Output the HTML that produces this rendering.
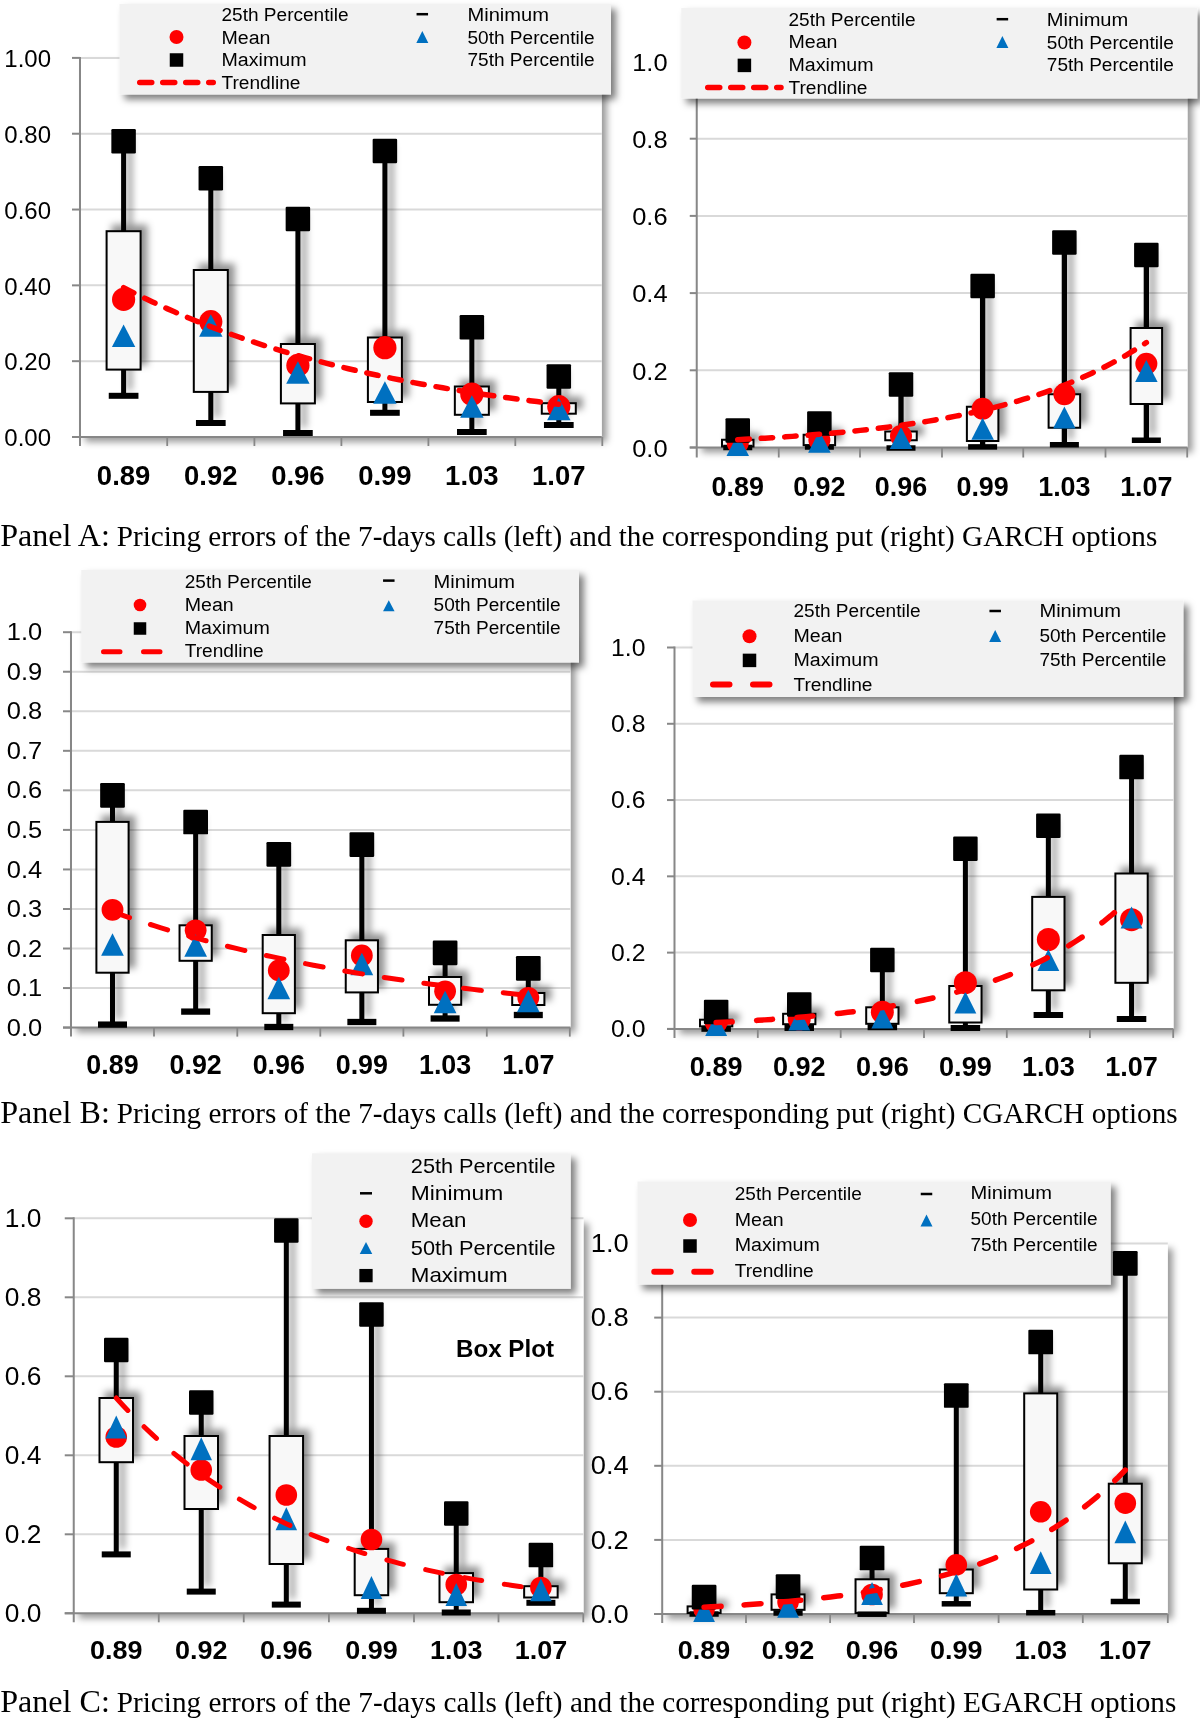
<!DOCTYPE html>
<html><head><meta charset="utf-8"><style>
html,body{margin:0;padding:0;background:#fff;}
svg{display:block;will-change:transform;}
</style></head><body>
<svg width="1200" height="1722" viewBox="0 0 1200 1722">
<defs>
<filter id="shp" x="-5%" y="-5%" width="115%" height="115%"><feDropShadow dx="5" dy="5" stdDeviation="3.5" flood-color="#000" flood-opacity="0.4"/></filter>
<filter id="she" x="-30%" y="-30%" width="160%" height="160%"><feDropShadow dx="6" dy="-5.5" stdDeviation="3.5" flood-color="#000" flood-opacity="0.42"/></filter>
<filter id="shl" x="-5%" y="-10%" width="115%" height="140%"><feDropShadow dx="5" dy="5" stdDeviation="3.8" flood-color="#000" flood-opacity="0.5"/></filter>
</defs>
<rect width="1200" height="1722" fill="#fff"/>
<rect x="80" y="57.9" width="521.8" height="379.1" fill="#fff" filter="url(#shp)"/>
<line x1="80" y1="361.18" x2="601.8" y2="361.18" stroke="#d9d9d9" stroke-width="2"/>
<line x1="80" y1="285.36" x2="601.8" y2="285.36" stroke="#d9d9d9" stroke-width="2"/>
<line x1="80" y1="209.54" x2="601.8" y2="209.54" stroke="#d9d9d9" stroke-width="2"/>
<line x1="80" y1="133.72" x2="601.8" y2="133.72" stroke="#d9d9d9" stroke-width="2"/>
<line x1="80" y1="57.90" x2="601.8" y2="57.90" stroke="#d9d9d9" stroke-width="2"/>
<line x1="80" y1="56.9" x2="80" y2="446" stroke="#878787" stroke-width="2"/>
<line x1="72" y1="437" x2="601.8" y2="437" stroke="#878787" stroke-width="2"/>
<line x1="72" y1="437.00" x2="80" y2="437.00" stroke="#878787" stroke-width="2"/>
<line x1="72" y1="361.18" x2="80" y2="361.18" stroke="#878787" stroke-width="2"/>
<line x1="72" y1="285.36" x2="80" y2="285.36" stroke="#878787" stroke-width="2"/>
<line x1="72" y1="209.54" x2="80" y2="209.54" stroke="#878787" stroke-width="2"/>
<line x1="72" y1="133.72" x2="80" y2="133.72" stroke="#878787" stroke-width="2"/>
<line x1="72" y1="57.90" x2="80" y2="57.90" stroke="#878787" stroke-width="2"/>
<line x1="167.2" y1="437" x2="167.2" y2="446" stroke="#878787" stroke-width="1.8"/>
<line x1="254.4" y1="437" x2="254.4" y2="446" stroke="#878787" stroke-width="1.8"/>
<line x1="341.4" y1="437" x2="341.4" y2="446" stroke="#878787" stroke-width="1.8"/>
<line x1="428.4" y1="437" x2="428.4" y2="446" stroke="#878787" stroke-width="1.8"/>
<line x1="515.3" y1="437" x2="515.3" y2="446" stroke="#878787" stroke-width="1.8"/>
<line x1="602.3" y1="437" x2="602.3" y2="446" stroke="#878787" stroke-width="1.8"/>
<text x="51.00" y="446.20" font-size="24" font-family='"Liberation Sans", sans-serif' text-anchor="end" textLength="46.7" lengthAdjust="spacingAndGlyphs" fill="#000">0.00</text>
<text x="51.00" y="370.38" font-size="24" font-family='"Liberation Sans", sans-serif' text-anchor="end" textLength="46.7" lengthAdjust="spacingAndGlyphs" fill="#000">0.20</text>
<text x="51.00" y="294.56" font-size="24" font-family='"Liberation Sans", sans-serif' text-anchor="end" textLength="46.7" lengthAdjust="spacingAndGlyphs" fill="#000">0.40</text>
<text x="51.00" y="218.74" font-size="24" font-family='"Liberation Sans", sans-serif' text-anchor="end" textLength="46.7" lengthAdjust="spacingAndGlyphs" fill="#000">0.60</text>
<text x="51.00" y="142.92" font-size="24" font-family='"Liberation Sans", sans-serif' text-anchor="end" textLength="46.7" lengthAdjust="spacingAndGlyphs" fill="#000">0.80</text>
<text x="51.00" y="67.10" font-size="24" font-family='"Liberation Sans", sans-serif' text-anchor="end" textLength="46.7" lengthAdjust="spacingAndGlyphs" fill="#000">1.00</text>
<text x="123.60" y="484.70" font-size="27.2" font-family='"Liberation Sans", sans-serif' text-anchor="middle" font-weight="bold" textLength="53.5" lengthAdjust="spacingAndGlyphs" fill="#000">0.89</text>
<text x="210.80" y="484.70" font-size="27.2" font-family='"Liberation Sans", sans-serif' text-anchor="middle" font-weight="bold" textLength="53.5" lengthAdjust="spacingAndGlyphs" fill="#000">0.92</text>
<text x="297.90" y="484.70" font-size="27.2" font-family='"Liberation Sans", sans-serif' text-anchor="middle" font-weight="bold" textLength="53.5" lengthAdjust="spacingAndGlyphs" fill="#000">0.96</text>
<text x="384.90" y="484.70" font-size="27.2" font-family='"Liberation Sans", sans-serif' text-anchor="middle" font-weight="bold" textLength="53.5" lengthAdjust="spacingAndGlyphs" fill="#000">0.99</text>
<text x="471.85" y="484.70" font-size="27.2" font-family='"Liberation Sans", sans-serif' text-anchor="middle" font-weight="bold" textLength="53.5" lengthAdjust="spacingAndGlyphs" fill="#000">1.03</text>
<text x="558.80" y="484.70" font-size="27.2" font-family='"Liberation Sans", sans-serif' text-anchor="middle" font-weight="bold" textLength="53.5" lengthAdjust="spacingAndGlyphs" fill="#000">1.07</text>
<g filter="url(#she)">
<line x1="123.60" y1="141.30" x2="123.60" y2="395.80" stroke="#000" stroke-width="5"/>
<line x1="210.80" y1="178.20" x2="210.80" y2="423.00" stroke="#000" stroke-width="5"/>
<line x1="297.90" y1="219.00" x2="297.90" y2="433.00" stroke="#000" stroke-width="5"/>
<line x1="384.90" y1="151.00" x2="384.90" y2="412.80" stroke="#000" stroke-width="5"/>
<line x1="471.85" y1="327.30" x2="471.85" y2="432.00" stroke="#000" stroke-width="5"/>
<line x1="558.80" y1="376.40" x2="558.80" y2="425.00" stroke="#000" stroke-width="5"/>
<rect x="106.60" y="231.20" width="34.00" height="138.40" fill="#f8f8f8" stroke="#000" stroke-width="2"/>
<rect x="193.80" y="270.00" width="34.00" height="121.90" fill="#f8f8f8" stroke="#000" stroke-width="2"/>
<rect x="280.90" y="344.00" width="34.00" height="59.40" fill="#f8f8f8" stroke="#000" stroke-width="2"/>
<rect x="367.90" y="337.50" width="34.00" height="64.50" fill="#f8f8f8" stroke="#000" stroke-width="2"/>
<rect x="454.85" y="386.50" width="34.00" height="28.30" fill="#f8f8f8" stroke="#000" stroke-width="2"/>
<rect x="541.80" y="403.20" width="34.00" height="10.50" fill="#f8f8f8" stroke="#000" stroke-width="2"/>
</g>
<rect x="108.75" y="392.80" width="29.7" height="6" fill="#000"/>
<circle cx="123.60" cy="299.40" r="11.6" fill="#ff0000"/>
<path d="M123.60,324.50 L135.30,347.00 L111.90,347.00 Z" fill="#0070c0"/>
<rect x="111.35" y="129.05" width="24.5" height="24.5" rx="1.2" fill="#000"/>
<rect x="195.95" y="420.00" width="29.7" height="6" fill="#000"/>
<circle cx="210.80" cy="321.70" r="11.6" fill="#ff0000"/>
<path d="M210.80,314.35 L222.50,336.85 L199.10,336.85 Z" fill="#0070c0"/>
<rect x="198.55" y="165.95" width="24.5" height="24.5" rx="1.2" fill="#000"/>
<rect x="283.05" y="430.00" width="29.7" height="6" fill="#000"/>
<circle cx="297.90" cy="365.40" r="11.6" fill="#ff0000"/>
<path d="M297.90,361.35 L309.60,383.85 L286.20,383.85 Z" fill="#0070c0"/>
<rect x="285.65" y="206.75" width="24.5" height="24.5" rx="1.2" fill="#000"/>
<rect x="370.05" y="409.80" width="29.7" height="6" fill="#000"/>
<circle cx="384.90" cy="347.70" r="11.6" fill="#ff0000"/>
<path d="M384.90,381.15 L396.60,403.65 L373.20,403.65 Z" fill="#0070c0"/>
<rect x="372.65" y="138.75" width="24.5" height="24.5" rx="1.2" fill="#000"/>
<rect x="457.00" y="429.00" width="29.7" height="6" fill="#000"/>
<circle cx="471.85" cy="394.20" r="11.6" fill="#ff0000"/>
<path d="M471.85,395.25 L483.55,417.75 L460.15,417.75 Z" fill="#0070c0"/>
<rect x="459.60" y="315.05" width="24.5" height="24.5" rx="1.2" fill="#000"/>
<rect x="543.95" y="422.00" width="29.7" height="6" fill="#000"/>
<circle cx="558.80" cy="406.70" r="11.6" fill="#ff0000"/>
<path d="M558.80,397.75 L570.50,420.25 L547.10,420.25 Z" fill="#0070c0"/>
<rect x="546.55" y="364.15" width="24.5" height="24.5" rx="1.2" fill="#000"/>
<polyline points="123.60,287.63 130.85,291.36 138.11,294.99 145.36,298.53 152.61,301.98 159.87,305.35 167.12,308.63 174.37,311.83 181.63,314.95 188.88,318.00 196.13,320.96 203.39,323.86 210.64,326.68 217.89,329.43 225.15,332.11 232.40,334.73 239.65,337.28 246.91,339.76 254.16,342.19 261.41,344.55 268.67,346.86 275.92,349.10 283.17,351.30 290.43,353.43 297.68,355.52 304.93,357.55 312.19,359.53 319.44,361.46 326.69,363.34 333.95,365.18 341.20,366.97 348.45,368.72 355.71,370.42 362.96,372.08 370.21,373.70 377.47,375.28 384.72,376.82 391.97,378.32 399.23,379.78 406.48,381.21 413.73,382.60 420.99,383.95 428.24,385.28 435.49,386.57 442.75,387.82 450.00,389.05 457.25,390.25 464.51,391.41 471.76,392.55 479.01,393.66 486.27,394.74 493.52,395.79 500.77,396.82 508.03,397.82 515.28,398.80 522.53,399.75 529.79,400.68 537.04,401.58 544.29,402.47 551.55,403.33 558.80,404.17" fill="none" stroke="#ff0000" stroke-width="5.5" stroke-linecap="round" stroke-dasharray="11.5 12"/>
<rect x="119.5" y="4" width="491.5" height="90.5" fill="#f2f2f2" filter="url(#shl)"/>
<text x="221.50" y="21.25" font-size="18" font-family='"Liberation Sans", sans-serif' textLength="127.0" lengthAdjust="spacingAndGlyphs" fill="#000">25th Percentile</text>
<circle cx="176.5" cy="37" r="7" fill="#ff0000"/>
<text x="221.50" y="43.75" font-size="18" font-family='"Liberation Sans", sans-serif' textLength="49.0" lengthAdjust="spacingAndGlyphs" fill="#000">Mean</text>
<rect x="169.75" y="53.25" width="13.5" height="13.5" fill="#000"/>
<text x="221.50" y="66.25" font-size="18" font-family='"Liberation Sans", sans-serif' textLength="85.0" lengthAdjust="spacingAndGlyphs" fill="#000">Maximum</text>
<line x1="139.75" y1="82.5" x2="213.25" y2="82.5" stroke="#ff0000" stroke-width="5.5" stroke-linecap="round" stroke-dasharray="12 11"/>
<text x="221.50" y="88.75" font-size="18" font-family='"Liberation Sans", sans-serif' textLength="79.0" lengthAdjust="spacingAndGlyphs" fill="#000">Trendline</text>
<rect x="416.55" y="12.95" width="11.5" height="2.5" fill="#000"/>
<text x="467.50" y="20.60" font-size="18" font-family='"Liberation Sans", sans-serif' textLength="81.5" lengthAdjust="spacingAndGlyphs" fill="#000">Minimum</text>
<path d="M422.30,30.90 L428.30,42.90 L416.30,42.90 Z" fill="#0070c0"/>
<text x="467.50" y="43.60" font-size="18" font-family='"Liberation Sans", sans-serif' textLength="127.0" lengthAdjust="spacingAndGlyphs" fill="#000">50th Percentile</text>
<text x="467.50" y="66.00" font-size="18" font-family='"Liberation Sans", sans-serif' textLength="127.0" lengthAdjust="spacingAndGlyphs" fill="#000">75th Percentile</text>
<rect x="696.75" y="61.5" width="490.75" height="386.0" fill="#fff" filter="url(#shp)"/>
<line x1="696.75" y1="370.30" x2="1187.5" y2="370.30" stroke="#d9d9d9" stroke-width="2"/>
<line x1="696.75" y1="293.10" x2="1187.5" y2="293.10" stroke="#d9d9d9" stroke-width="2"/>
<line x1="696.75" y1="215.90" x2="1187.5" y2="215.90" stroke="#d9d9d9" stroke-width="2"/>
<line x1="696.75" y1="138.70" x2="1187.5" y2="138.70" stroke="#d9d9d9" stroke-width="2"/>
<line x1="696.75" y1="61.50" x2="1187.5" y2="61.50" stroke="#d9d9d9" stroke-width="2"/>
<line x1="696.75" y1="60.5" x2="696.75" y2="457.5" stroke="#878787" stroke-width="2"/>
<line x1="689.75" y1="447.5" x2="1187.5" y2="447.5" stroke="#878787" stroke-width="2"/>
<line x1="689.75" y1="447.50" x2="696.75" y2="447.50" stroke="#878787" stroke-width="2"/>
<line x1="689.75" y1="370.30" x2="696.75" y2="370.30" stroke="#878787" stroke-width="2"/>
<line x1="689.75" y1="293.10" x2="696.75" y2="293.10" stroke="#878787" stroke-width="2"/>
<line x1="689.75" y1="215.90" x2="696.75" y2="215.90" stroke="#878787" stroke-width="2"/>
<line x1="689.75" y1="138.70" x2="696.75" y2="138.70" stroke="#878787" stroke-width="2"/>
<line x1="689.75" y1="61.50" x2="696.75" y2="61.50" stroke="#878787" stroke-width="2"/>
<line x1="778.75" y1="447.5" x2="778.75" y2="457.5" stroke="#878787" stroke-width="1.8"/>
<line x1="860" y1="447.5" x2="860" y2="457.5" stroke="#878787" stroke-width="1.8"/>
<line x1="942" y1="447.5" x2="942" y2="457.5" stroke="#878787" stroke-width="1.8"/>
<line x1="1023.25" y1="447.5" x2="1023.25" y2="457.5" stroke="#878787" stroke-width="1.8"/>
<line x1="1105.5" y1="447.5" x2="1105.5" y2="457.5" stroke="#878787" stroke-width="1.8"/>
<line x1="1187.2" y1="447.5" x2="1187.2" y2="457.5" stroke="#878787" stroke-width="1.8"/>
<text x="667.60" y="456.70" font-size="24" font-family='"Liberation Sans", sans-serif' text-anchor="end" textLength="35.4" lengthAdjust="spacingAndGlyphs" fill="#000">0.0</text>
<text x="667.60" y="379.50" font-size="24" font-family='"Liberation Sans", sans-serif' text-anchor="end" textLength="35.4" lengthAdjust="spacingAndGlyphs" fill="#000">0.2</text>
<text x="667.60" y="302.30" font-size="24" font-family='"Liberation Sans", sans-serif' text-anchor="end" textLength="35.4" lengthAdjust="spacingAndGlyphs" fill="#000">0.4</text>
<text x="667.60" y="225.10" font-size="24" font-family='"Liberation Sans", sans-serif' text-anchor="end" textLength="35.4" lengthAdjust="spacingAndGlyphs" fill="#000">0.6</text>
<text x="667.60" y="147.90" font-size="24" font-family='"Liberation Sans", sans-serif' text-anchor="end" textLength="35.4" lengthAdjust="spacingAndGlyphs" fill="#000">0.8</text>
<text x="667.60" y="70.70" font-size="24" font-family='"Liberation Sans", sans-serif' text-anchor="end" textLength="35.4" lengthAdjust="spacingAndGlyphs" fill="#000">1.0</text>
<text x="737.75" y="495.50" font-size="27.2" font-family='"Liberation Sans", sans-serif' text-anchor="middle" font-weight="bold" textLength="52.4" lengthAdjust="spacingAndGlyphs" fill="#000">0.89</text>
<text x="819.38" y="495.50" font-size="27.2" font-family='"Liberation Sans", sans-serif' text-anchor="middle" font-weight="bold" textLength="52.4" lengthAdjust="spacingAndGlyphs" fill="#000">0.92</text>
<text x="901.00" y="495.50" font-size="27.2" font-family='"Liberation Sans", sans-serif' text-anchor="middle" font-weight="bold" textLength="52.4" lengthAdjust="spacingAndGlyphs" fill="#000">0.96</text>
<text x="982.62" y="495.50" font-size="27.2" font-family='"Liberation Sans", sans-serif' text-anchor="middle" font-weight="bold" textLength="52.4" lengthAdjust="spacingAndGlyphs" fill="#000">0.99</text>
<text x="1064.38" y="495.50" font-size="27.2" font-family='"Liberation Sans", sans-serif' text-anchor="middle" font-weight="bold" textLength="52.4" lengthAdjust="spacingAndGlyphs" fill="#000">1.03</text>
<text x="1146.35" y="495.50" font-size="27.2" font-family='"Liberation Sans", sans-serif' text-anchor="middle" font-weight="bold" textLength="52.4" lengthAdjust="spacingAndGlyphs" fill="#000">1.07</text>
<g filter="url(#she)">
<line x1="737.75" y1="430.40" x2="737.75" y2="447.50" stroke="#000" stroke-width="5.3"/>
<line x1="819.38" y1="423.50" x2="819.38" y2="447.00" stroke="#000" stroke-width="5.3"/>
<line x1="901.00" y1="384.40" x2="901.00" y2="448.00" stroke="#000" stroke-width="5.3"/>
<line x1="982.62" y1="286.00" x2="982.62" y2="446.90" stroke="#000" stroke-width="5.3"/>
<line x1="1064.38" y1="242.50" x2="1064.38" y2="444.75" stroke="#000" stroke-width="5.3"/>
<line x1="1146.35" y1="255.00" x2="1146.35" y2="440.25" stroke="#000" stroke-width="5.3"/>
<rect x="722.00" y="439.75" width="31.50" height="6.75" fill="#f8f8f8" stroke="#000" stroke-width="2"/>
<rect x="803.62" y="434.75" width="31.50" height="10.50" fill="#f8f8f8" stroke="#000" stroke-width="2"/>
<rect x="885.25" y="431.50" width="31.50" height="8.75" fill="#f8f8f8" stroke="#000" stroke-width="2"/>
<rect x="966.88" y="406.75" width="31.50" height="34.25" fill="#f8f8f8" stroke="#000" stroke-width="2"/>
<rect x="1048.62" y="394.25" width="31.50" height="33.50" fill="#f8f8f8" stroke="#000" stroke-width="2"/>
<rect x="1130.60" y="328.00" width="31.50" height="76.00" fill="#f8f8f8" stroke="#000" stroke-width="2"/>
</g>
<rect x="723.25" y="444.75" width="29" height="5.5" fill="#000"/>
<circle cx="737.75" cy="443.00" r="11" fill="#ff0000"/>
<path d="M737.75,434.00 L749.00,456.00 L726.50,456.00 Z" fill="#0070c0"/>
<rect x="725.50" y="418.15" width="24.5" height="24.5" rx="1.2" fill="#000"/>
<rect x="804.88" y="444.25" width="29" height="5.5" fill="#000"/>
<circle cx="819.38" cy="440.00" r="11" fill="#ff0000"/>
<path d="M819.38,430.75 L830.62,452.75 L808.12,452.75 Z" fill="#0070c0"/>
<rect x="807.12" y="411.25" width="24.5" height="24.5" rx="1.2" fill="#000"/>
<rect x="886.50" y="445.25" width="29" height="5.5" fill="#000"/>
<circle cx="901.00" cy="436.00" r="11" fill="#ff0000"/>
<path d="M901.00,427.00 L912.25,449.00 L889.75,449.00 Z" fill="#0070c0"/>
<rect x="888.75" y="372.15" width="24.5" height="24.5" rx="1.2" fill="#000"/>
<rect x="968.12" y="444.15" width="29" height="5.5" fill="#000"/>
<circle cx="982.62" cy="408.75" r="11" fill="#ff0000"/>
<path d="M982.62,417.75 L993.88,439.75 L971.38,439.75 Z" fill="#0070c0"/>
<rect x="970.38" y="273.75" width="24.5" height="24.5" rx="1.2" fill="#000"/>
<rect x="1049.88" y="442.00" width="29" height="5.5" fill="#000"/>
<circle cx="1064.38" cy="394.25" r="11" fill="#ff0000"/>
<path d="M1064.38,406.50 L1075.62,428.50 L1053.12,428.50 Z" fill="#0070c0"/>
<rect x="1052.12" y="230.25" width="24.5" height="24.5" rx="1.2" fill="#000"/>
<rect x="1131.85" y="437.50" width="29" height="5.5" fill="#000"/>
<circle cx="1146.35" cy="363.75" r="11" fill="#ff0000"/>
<path d="M1146.35,360.00 L1157.60,382.00 L1135.10,382.00 Z" fill="#0070c0"/>
<rect x="1134.10" y="242.75" width="24.5" height="24.5" rx="1.2" fill="#000"/>
<polyline points="737.75,439.63 744.56,439.28 751.37,438.92 758.18,438.54 764.99,438.14 771.80,437.73 778.61,437.30 785.42,436.85 792.23,436.38 799.04,435.89 805.85,435.37 812.66,434.84 819.47,434.28 826.28,433.70 833.09,433.09 839.90,432.45 846.71,431.79 853.52,431.10 860.33,430.37 867.14,429.62 873.95,428.83 880.76,428.01 887.57,427.15 894.38,426.25 901.19,425.31 908.00,424.33 914.81,423.31 921.62,422.24 928.43,421.13 935.24,419.97 942.05,418.75 948.86,417.48 955.67,416.16 962.48,414.78 969.29,413.33 976.10,411.82 982.91,410.25 989.72,408.61 996.53,406.89 1003.34,405.10 1010.15,403.23 1016.96,401.28 1023.77,399.24 1030.58,397.11 1037.39,394.89 1044.20,392.57 1051.01,390.14 1057.82,387.61 1064.63,384.97 1071.44,382.21 1078.25,379.33 1085.06,376.33 1091.87,373.19 1098.68,369.91 1105.49,366.49 1112.30,362.91 1119.11,359.18 1125.92,355.29 1132.73,351.22 1139.54,346.97 1146.35,342.54" fill="none" stroke="#ff0000" stroke-width="5.5" stroke-linecap="round" stroke-dasharray="11.5 12"/>
<rect x="681.25" y="8" width="515.95" height="90.5" fill="#f2f2f2" filter="url(#shl)"/>
<text x="788.50" y="25.75" font-size="18" font-family='"Liberation Sans", sans-serif' textLength="127.0" lengthAdjust="spacingAndGlyphs" fill="#000">25th Percentile</text>
<circle cx="744.4" cy="42.5" r="7" fill="#ff0000"/>
<text x="788.50" y="48.00" font-size="18" font-family='"Liberation Sans", sans-serif' textLength="49.0" lengthAdjust="spacingAndGlyphs" fill="#000">Mean</text>
<rect x="737.65" y="58.650000000000006" width="13.5" height="13.5" fill="#000"/>
<text x="788.50" y="70.75" font-size="18" font-family='"Liberation Sans", sans-serif' textLength="85.0" lengthAdjust="spacingAndGlyphs" fill="#000">Maximum</text>
<line x1="707.75" y1="87.5" x2="781.0" y2="87.5" stroke="#ff0000" stroke-width="5.5" stroke-linecap="round" stroke-dasharray="12 11"/>
<text x="788.50" y="93.75" font-size="18" font-family='"Liberation Sans", sans-serif' textLength="79.0" lengthAdjust="spacingAndGlyphs" fill="#000">Trendline</text>
<rect x="996.65" y="17.95" width="11.5" height="2.5" fill="#000"/>
<text x="1046.80" y="25.80" font-size="18" font-family='"Liberation Sans", sans-serif' textLength="81.5" lengthAdjust="spacingAndGlyphs" fill="#000">Minimum</text>
<path d="M1002.40,35.90 L1008.40,47.90 L996.40,47.90 Z" fill="#0070c0"/>
<text x="1046.80" y="48.70" font-size="18" font-family='"Liberation Sans", sans-serif' textLength="127.0" lengthAdjust="spacingAndGlyphs" fill="#000">50th Percentile</text>
<text x="1046.80" y="71.30" font-size="18" font-family='"Liberation Sans", sans-serif' textLength="127.0" lengthAdjust="spacingAndGlyphs" fill="#000">75th Percentile</text>
<rect x="71" y="632.2" width="499.5" height="395.39999999999986" fill="#fff" filter="url(#shp)"/>
<line x1="71" y1="988.06" x2="570.5" y2="988.06" stroke="#d9d9d9" stroke-width="2"/>
<line x1="71" y1="948.52" x2="570.5" y2="948.52" stroke="#d9d9d9" stroke-width="2"/>
<line x1="71" y1="908.98" x2="570.5" y2="908.98" stroke="#d9d9d9" stroke-width="2"/>
<line x1="71" y1="869.44" x2="570.5" y2="869.44" stroke="#d9d9d9" stroke-width="2"/>
<line x1="71" y1="829.90" x2="570.5" y2="829.90" stroke="#d9d9d9" stroke-width="2"/>
<line x1="71" y1="790.36" x2="570.5" y2="790.36" stroke="#d9d9d9" stroke-width="2"/>
<line x1="71" y1="750.82" x2="570.5" y2="750.82" stroke="#d9d9d9" stroke-width="2"/>
<line x1="71" y1="711.28" x2="570.5" y2="711.28" stroke="#d9d9d9" stroke-width="2"/>
<line x1="71" y1="671.74" x2="570.5" y2="671.74" stroke="#d9d9d9" stroke-width="2"/>
<line x1="71" y1="632.20" x2="570.5" y2="632.20" stroke="#d9d9d9" stroke-width="2"/>
<line x1="71" y1="631.2" x2="71" y2="1036.6" stroke="#878787" stroke-width="2"/>
<line x1="63" y1="1027.6" x2="570.5" y2="1027.6" stroke="#878787" stroke-width="2"/>
<line x1="63" y1="1027.60" x2="71" y2="1027.60" stroke="#878787" stroke-width="2"/>
<line x1="63" y1="988.06" x2="71" y2="988.06" stroke="#878787" stroke-width="2"/>
<line x1="63" y1="948.52" x2="71" y2="948.52" stroke="#878787" stroke-width="2"/>
<line x1="63" y1="908.98" x2="71" y2="908.98" stroke="#878787" stroke-width="2"/>
<line x1="63" y1="869.44" x2="71" y2="869.44" stroke="#878787" stroke-width="2"/>
<line x1="63" y1="829.90" x2="71" y2="829.90" stroke="#878787" stroke-width="2"/>
<line x1="63" y1="790.36" x2="71" y2="790.36" stroke="#878787" stroke-width="2"/>
<line x1="63" y1="750.82" x2="71" y2="750.82" stroke="#878787" stroke-width="2"/>
<line x1="63" y1="711.28" x2="71" y2="711.28" stroke="#878787" stroke-width="2"/>
<line x1="63" y1="671.74" x2="71" y2="671.74" stroke="#878787" stroke-width="2"/>
<line x1="63" y1="632.20" x2="71" y2="632.20" stroke="#878787" stroke-width="2"/>
<line x1="154" y1="1027.6" x2="154" y2="1036.6" stroke="#878787" stroke-width="1.8"/>
<line x1="237.3" y1="1027.6" x2="237.3" y2="1036.6" stroke="#878787" stroke-width="1.8"/>
<line x1="320.3" y1="1027.6" x2="320.3" y2="1036.6" stroke="#878787" stroke-width="1.8"/>
<line x1="403.4" y1="1027.6" x2="403.4" y2="1036.6" stroke="#878787" stroke-width="1.8"/>
<line x1="486.8" y1="1027.6" x2="486.8" y2="1036.6" stroke="#878787" stroke-width="1.8"/>
<line x1="569.8" y1="1027.6" x2="569.8" y2="1036.6" stroke="#878787" stroke-width="1.8"/>
<text x="42.20" y="1035.70" font-size="24" font-family='"Liberation Sans", sans-serif' text-anchor="end" textLength="35.4" lengthAdjust="spacingAndGlyphs" fill="#000">0.0</text>
<text x="42.20" y="996.16" font-size="24" font-family='"Liberation Sans", sans-serif' text-anchor="end" textLength="35.4" lengthAdjust="spacingAndGlyphs" fill="#000">0.1</text>
<text x="42.20" y="956.62" font-size="24" font-family='"Liberation Sans", sans-serif' text-anchor="end" textLength="35.4" lengthAdjust="spacingAndGlyphs" fill="#000">0.2</text>
<text x="42.20" y="917.08" font-size="24" font-family='"Liberation Sans", sans-serif' text-anchor="end" textLength="35.4" lengthAdjust="spacingAndGlyphs" fill="#000">0.3</text>
<text x="42.20" y="877.54" font-size="24" font-family='"Liberation Sans", sans-serif' text-anchor="end" textLength="35.4" lengthAdjust="spacingAndGlyphs" fill="#000">0.4</text>
<text x="42.20" y="838.00" font-size="24" font-family='"Liberation Sans", sans-serif' text-anchor="end" textLength="35.4" lengthAdjust="spacingAndGlyphs" fill="#000">0.5</text>
<text x="42.20" y="798.46" font-size="24" font-family='"Liberation Sans", sans-serif' text-anchor="end" textLength="35.4" lengthAdjust="spacingAndGlyphs" fill="#000">0.6</text>
<text x="42.20" y="758.92" font-size="24" font-family='"Liberation Sans", sans-serif' text-anchor="end" textLength="35.4" lengthAdjust="spacingAndGlyphs" fill="#000">0.7</text>
<text x="42.20" y="719.38" font-size="24" font-family='"Liberation Sans", sans-serif' text-anchor="end" textLength="35.4" lengthAdjust="spacingAndGlyphs" fill="#000">0.8</text>
<text x="42.20" y="679.84" font-size="24" font-family='"Liberation Sans", sans-serif' text-anchor="end" textLength="35.4" lengthAdjust="spacingAndGlyphs" fill="#000">0.9</text>
<text x="42.20" y="640.30" font-size="24" font-family='"Liberation Sans", sans-serif' text-anchor="end" textLength="35.4" lengthAdjust="spacingAndGlyphs" fill="#000">1.0</text>
<text x="112.50" y="1073.80" font-size="27.2" font-family='"Liberation Sans", sans-serif' text-anchor="middle" font-weight="bold" textLength="52.3" lengthAdjust="spacingAndGlyphs" fill="#000">0.89</text>
<text x="195.65" y="1073.80" font-size="27.2" font-family='"Liberation Sans", sans-serif' text-anchor="middle" font-weight="bold" textLength="52.3" lengthAdjust="spacingAndGlyphs" fill="#000">0.92</text>
<text x="278.80" y="1073.80" font-size="27.2" font-family='"Liberation Sans", sans-serif' text-anchor="middle" font-weight="bold" textLength="52.3" lengthAdjust="spacingAndGlyphs" fill="#000">0.96</text>
<text x="361.85" y="1073.80" font-size="27.2" font-family='"Liberation Sans", sans-serif' text-anchor="middle" font-weight="bold" textLength="52.3" lengthAdjust="spacingAndGlyphs" fill="#000">0.99</text>
<text x="445.10" y="1073.80" font-size="27.2" font-family='"Liberation Sans", sans-serif' text-anchor="middle" font-weight="bold" textLength="52.3" lengthAdjust="spacingAndGlyphs" fill="#000">1.03</text>
<text x="528.30" y="1073.80" font-size="27.2" font-family='"Liberation Sans", sans-serif' text-anchor="middle" font-weight="bold" textLength="52.3" lengthAdjust="spacingAndGlyphs" fill="#000">1.07</text>
<g filter="url(#she)">
<line x1="112.50" y1="795.40" x2="112.50" y2="1024.60" stroke="#000" stroke-width="5"/>
<line x1="195.65" y1="822.00" x2="195.65" y2="1011.60" stroke="#000" stroke-width="5"/>
<line x1="278.80" y1="854.40" x2="278.80" y2="1027.00" stroke="#000" stroke-width="5"/>
<line x1="361.85" y1="844.70" x2="361.85" y2="1022.00" stroke="#000" stroke-width="5"/>
<line x1="445.10" y1="952.80" x2="445.10" y2="1018.50" stroke="#000" stroke-width="5"/>
<line x1="528.30" y1="968.30" x2="528.30" y2="1015.00" stroke="#000" stroke-width="5"/>
<rect x="96.40" y="821.90" width="32.20" height="150.80" fill="#f8f8f8" stroke="#000" stroke-width="2"/>
<rect x="179.55" y="925.30" width="32.20" height="35.50" fill="#f8f8f8" stroke="#000" stroke-width="2"/>
<rect x="262.70" y="935.00" width="32.20" height="78.20" fill="#f8f8f8" stroke="#000" stroke-width="2"/>
<rect x="345.75" y="940.30" width="32.20" height="52.10" fill="#f8f8f8" stroke="#000" stroke-width="2"/>
<rect x="429.00" y="977.00" width="32.20" height="27.80" fill="#f8f8f8" stroke="#000" stroke-width="2"/>
<rect x="512.20" y="993.00" width="32.20" height="12.00" fill="#f8f8f8" stroke="#000" stroke-width="2"/>
</g>
<rect x="98.00" y="1021.45" width="29" height="6.3" fill="#000"/>
<circle cx="112.50" cy="909.80" r="10.9" fill="#ff0000"/>
<path d="M112.50,933.35 L123.85,955.85 L101.15,955.85 Z" fill="#0070c0"/>
<rect x="100.15" y="783.05" width="24.7" height="24.7" rx="1.2" fill="#000"/>
<rect x="181.15" y="1008.45" width="29" height="6.3" fill="#000"/>
<circle cx="195.65" cy="930.30" r="10.9" fill="#ff0000"/>
<path d="M195.65,934.25 L207.00,956.75 L184.30,956.75 Z" fill="#0070c0"/>
<rect x="183.30" y="809.65" width="24.7" height="24.7" rx="1.2" fill="#000"/>
<rect x="264.30" y="1023.85" width="29" height="6.3" fill="#000"/>
<circle cx="278.80" cy="970.40" r="10.9" fill="#ff0000"/>
<path d="M278.80,976.75 L290.15,999.25 L267.45,999.25 Z" fill="#0070c0"/>
<rect x="266.45" y="842.05" width="24.7" height="24.7" rx="1.2" fill="#000"/>
<rect x="347.35" y="1018.85" width="29" height="6.3" fill="#000"/>
<circle cx="361.85" cy="955.50" r="10.9" fill="#ff0000"/>
<path d="M361.85,952.75 L373.20,975.25 L350.50,975.25 Z" fill="#0070c0"/>
<rect x="349.50" y="832.35" width="24.7" height="24.7" rx="1.2" fill="#000"/>
<rect x="430.60" y="1015.35" width="29" height="6.3" fill="#000"/>
<circle cx="445.10" cy="991.30" r="10.9" fill="#ff0000"/>
<path d="M445.10,990.75 L456.45,1013.25 L433.75,1013.25 Z" fill="#0070c0"/>
<rect x="432.75" y="940.45" width="24.7" height="24.7" rx="1.2" fill="#000"/>
<rect x="513.80" y="1011.85" width="29" height="6.3" fill="#000"/>
<circle cx="528.30" cy="997.80" r="10.9" fill="#ff0000"/>
<path d="M528.30,989.75 L539.65,1012.25 L516.95,1012.25 Z" fill="#0070c0"/>
<rect x="515.95" y="955.95" width="24.7" height="24.7" rx="1.2" fill="#000"/>
<polyline points="112.50,911.75 119.43,914.19 126.36,916.59 133.29,918.93 140.22,921.22 147.15,923.47 154.08,925.67 161.01,927.82 167.94,929.92 174.87,931.99 181.80,934.00 188.73,935.98 195.66,937.91 202.59,939.81 209.52,941.66 216.45,943.47 223.38,945.25 230.31,946.99 237.24,948.69 244.17,950.36 251.10,951.99 258.03,953.58 264.96,955.14 271.89,956.67 278.82,958.17 285.75,959.64 292.68,961.07 299.61,962.47 306.54,963.85 313.47,965.19 320.40,966.51 327.33,967.80 334.26,969.06 341.19,970.30 348.12,971.51 355.05,972.69 361.98,973.85 368.91,974.99 375.84,976.10 382.77,977.18 389.70,978.25 396.63,979.29 403.56,980.31 410.49,981.31 417.42,982.28 424.35,983.24 431.28,984.18 438.21,985.09 445.14,985.99 452.07,986.87 459.00,987.73 465.93,988.57 472.86,989.39 479.79,990.20 486.72,990.99 493.65,991.76 500.58,992.52 507.51,993.26 514.44,993.98 521.37,994.69 528.30,995.39" fill="none" stroke="#ff0000" stroke-width="5" stroke-linecap="round" stroke-dasharray="18 22"/>
<rect x="81.25" y="570" width="497.75" height="92.5" fill="#f2f2f2" filter="url(#shl)"/>
<text x="184.75" y="587.50" font-size="18" font-family='"Liberation Sans", sans-serif' textLength="127.0" lengthAdjust="spacingAndGlyphs" fill="#000">25th Percentile</text>
<circle cx="140" cy="605" r="6.3" fill="#ff0000"/>
<text x="184.75" y="611.25" font-size="18" font-family='"Liberation Sans", sans-serif' textLength="49.0" lengthAdjust="spacingAndGlyphs" fill="#000">Mean</text>
<rect x="133.75" y="622.25" width="12.5" height="12.5" fill="#000"/>
<text x="184.75" y="633.75" font-size="18" font-family='"Liberation Sans", sans-serif' textLength="85.0" lengthAdjust="spacingAndGlyphs" fill="#000">Maximum</text>
<line x1="103.5" y1="651.75" x2="161.25" y2="651.75" stroke="#ff0000" stroke-width="5" stroke-linecap="round" stroke-dasharray="16.5 23.5"/>
<text x="184.75" y="656.75" font-size="18" font-family='"Liberation Sans", sans-serif' textLength="79.0" lengthAdjust="spacingAndGlyphs" fill="#000">Trendline</text>
<rect x="383.05" y="579.35" width="11.5" height="2.5" fill="#000"/>
<text x="433.60" y="587.75" font-size="18" font-family='"Liberation Sans", sans-serif' textLength="81.5" lengthAdjust="spacingAndGlyphs" fill="#000">Minimum</text>
<path d="M388.80,600.20 L394.55,611.20 L383.05,611.20 Z" fill="#0070c0"/>
<text x="433.60" y="611.00" font-size="18" font-family='"Liberation Sans", sans-serif' textLength="127.0" lengthAdjust="spacingAndGlyphs" fill="#000">50th Percentile</text>
<text x="433.60" y="633.90" font-size="18" font-family='"Liberation Sans", sans-serif' textLength="127.0" lengthAdjust="spacingAndGlyphs" fill="#000">75th Percentile</text>
<rect x="674.5" y="647.5" width="499.0" height="381.4000000000001" fill="#fff" filter="url(#shp)"/>
<line x1="674.5" y1="952.62" x2="1173.5" y2="952.62" stroke="#d9d9d9" stroke-width="2"/>
<line x1="674.5" y1="876.34" x2="1173.5" y2="876.34" stroke="#d9d9d9" stroke-width="2"/>
<line x1="674.5" y1="800.06" x2="1173.5" y2="800.06" stroke="#d9d9d9" stroke-width="2"/>
<line x1="674.5" y1="723.78" x2="1173.5" y2="723.78" stroke="#d9d9d9" stroke-width="2"/>
<line x1="674.5" y1="647.50" x2="1173.5" y2="647.50" stroke="#d9d9d9" stroke-width="2"/>
<line x1="674.5" y1="646.5" x2="674.5" y2="1037.9" stroke="#878787" stroke-width="2"/>
<line x1="667.0" y1="1028.9" x2="1173.5" y2="1028.9" stroke="#878787" stroke-width="2"/>
<line x1="667.0" y1="1028.90" x2="674.5" y2="1028.90" stroke="#878787" stroke-width="2"/>
<line x1="667.0" y1="952.62" x2="674.5" y2="952.62" stroke="#878787" stroke-width="2"/>
<line x1="667.0" y1="876.34" x2="674.5" y2="876.34" stroke="#878787" stroke-width="2"/>
<line x1="667.0" y1="800.06" x2="674.5" y2="800.06" stroke="#878787" stroke-width="2"/>
<line x1="667.0" y1="723.78" x2="674.5" y2="723.78" stroke="#878787" stroke-width="2"/>
<line x1="667.0" y1="647.50" x2="674.5" y2="647.50" stroke="#878787" stroke-width="2"/>
<line x1="757.8" y1="1028.9" x2="757.8" y2="1037.9" stroke="#878787" stroke-width="1.8"/>
<line x1="840.7" y1="1028.9" x2="840.7" y2="1037.9" stroke="#878787" stroke-width="1.8"/>
<line x1="924" y1="1028.9" x2="924" y2="1037.9" stroke="#878787" stroke-width="1.8"/>
<line x1="1006.8" y1="1028.9" x2="1006.8" y2="1037.9" stroke="#878787" stroke-width="1.8"/>
<line x1="1089.9" y1="1028.9" x2="1089.9" y2="1037.9" stroke="#878787" stroke-width="1.8"/>
<line x1="1173.2" y1="1028.9" x2="1173.2" y2="1037.9" stroke="#878787" stroke-width="1.8"/>
<text x="645.40" y="1037.20" font-size="24" font-family='"Liberation Sans", sans-serif' text-anchor="end" textLength="34.4" lengthAdjust="spacingAndGlyphs" fill="#000">0.0</text>
<text x="645.40" y="960.92" font-size="24" font-family='"Liberation Sans", sans-serif' text-anchor="end" textLength="34.4" lengthAdjust="spacingAndGlyphs" fill="#000">0.2</text>
<text x="645.40" y="884.64" font-size="24" font-family='"Liberation Sans", sans-serif' text-anchor="end" textLength="34.4" lengthAdjust="spacingAndGlyphs" fill="#000">0.4</text>
<text x="645.40" y="808.36" font-size="24" font-family='"Liberation Sans", sans-serif' text-anchor="end" textLength="34.4" lengthAdjust="spacingAndGlyphs" fill="#000">0.6</text>
<text x="645.40" y="732.08" font-size="24" font-family='"Liberation Sans", sans-serif' text-anchor="end" textLength="34.4" lengthAdjust="spacingAndGlyphs" fill="#000">0.8</text>
<text x="645.40" y="655.80" font-size="24" font-family='"Liberation Sans", sans-serif' text-anchor="end" textLength="34.4" lengthAdjust="spacingAndGlyphs" fill="#000">1.0</text>
<text x="716.15" y="1075.50" font-size="27.2" font-family='"Liberation Sans", sans-serif' text-anchor="middle" font-weight="bold" textLength="52.7" lengthAdjust="spacingAndGlyphs" fill="#000">0.89</text>
<text x="799.25" y="1075.50" font-size="27.2" font-family='"Liberation Sans", sans-serif' text-anchor="middle" font-weight="bold" textLength="52.7" lengthAdjust="spacingAndGlyphs" fill="#000">0.92</text>
<text x="882.35" y="1075.50" font-size="27.2" font-family='"Liberation Sans", sans-serif' text-anchor="middle" font-weight="bold" textLength="52.7" lengthAdjust="spacingAndGlyphs" fill="#000">0.96</text>
<text x="965.40" y="1075.50" font-size="27.2" font-family='"Liberation Sans", sans-serif' text-anchor="middle" font-weight="bold" textLength="52.7" lengthAdjust="spacingAndGlyphs" fill="#000">0.99</text>
<text x="1048.35" y="1075.50" font-size="27.2" font-family='"Liberation Sans", sans-serif' text-anchor="middle" font-weight="bold" textLength="52.7" lengthAdjust="spacingAndGlyphs" fill="#000">1.03</text>
<text x="1131.55" y="1075.50" font-size="27.2" font-family='"Liberation Sans", sans-serif' text-anchor="middle" font-weight="bold" textLength="52.7" lengthAdjust="spacingAndGlyphs" fill="#000">1.07</text>
<g filter="url(#she)">
<line x1="716.15" y1="1011.90" x2="716.15" y2="1028.80" stroke="#000" stroke-width="5"/>
<line x1="799.25" y1="1004.50" x2="799.25" y2="1028.00" stroke="#000" stroke-width="5"/>
<line x1="882.35" y1="960.00" x2="882.35" y2="1027.20" stroke="#000" stroke-width="5"/>
<line x1="965.40" y1="848.80" x2="965.40" y2="1028.00" stroke="#000" stroke-width="5"/>
<line x1="1048.35" y1="825.80" x2="1048.35" y2="1015.00" stroke="#000" stroke-width="5"/>
<line x1="1131.55" y1="767.10" x2="1131.55" y2="1019.00" stroke="#000" stroke-width="5"/>
<rect x="700.00" y="1019.70" width="32.30" height="6.70" fill="#f8f8f8" stroke="#000" stroke-width="2"/>
<rect x="783.10" y="1013.80" width="32.30" height="10.40" fill="#f8f8f8" stroke="#000" stroke-width="2"/>
<rect x="866.20" y="1007.30" width="32.30" height="16.50" fill="#f8f8f8" stroke="#000" stroke-width="2"/>
<rect x="949.25" y="986.00" width="32.30" height="36.50" fill="#f8f8f8" stroke="#000" stroke-width="2"/>
<rect x="1032.20" y="896.90" width="32.30" height="93.40" fill="#f8f8f8" stroke="#000" stroke-width="2"/>
<rect x="1115.40" y="873.50" width="32.30" height="109.30" fill="#f8f8f8" stroke="#000" stroke-width="2"/>
</g>
<rect x="701.40" y="1025.80" width="29.5" height="6" fill="#000"/>
<circle cx="716.15" cy="1022.00" r="11.5" fill="#ff0000"/>
<path d="M716.15,1014.00 L727.10,1036.00 L705.20,1036.00 Z" fill="#0070c0"/>
<rect x="703.90" y="999.65" width="24.5" height="24.5" rx="1.2" fill="#000"/>
<rect x="784.50" y="1025.00" width="29.5" height="6" fill="#000"/>
<circle cx="799.25" cy="1019.00" r="11.5" fill="#ff0000"/>
<path d="M799.25,1008.60 L810.20,1030.60 L788.30,1030.60 Z" fill="#0070c0"/>
<rect x="787.00" y="992.25" width="24.5" height="24.5" rx="1.2" fill="#000"/>
<rect x="867.60" y="1024.20" width="29.5" height="6" fill="#000"/>
<circle cx="882.35" cy="1012.20" r="11.5" fill="#ff0000"/>
<path d="M882.35,1006.40 L893.30,1028.40 L871.40,1028.40 Z" fill="#0070c0"/>
<rect x="870.10" y="947.75" width="24.5" height="24.5" rx="1.2" fill="#000"/>
<rect x="950.65" y="1025.00" width="29.5" height="6" fill="#000"/>
<circle cx="965.40" cy="982.70" r="11.5" fill="#ff0000"/>
<path d="M965.40,991.50 L976.35,1013.50 L954.45,1013.50 Z" fill="#0070c0"/>
<rect x="953.15" y="836.55" width="24.5" height="24.5" rx="1.2" fill="#000"/>
<rect x="1033.60" y="1012.00" width="29.5" height="6" fill="#000"/>
<circle cx="1048.35" cy="939.50" r="11.5" fill="#ff0000"/>
<path d="M1048.35,949.00 L1059.30,971.00 L1037.40,971.00 Z" fill="#0070c0"/>
<rect x="1036.10" y="813.55" width="24.5" height="24.5" rx="1.2" fill="#000"/>
<rect x="1116.80" y="1016.00" width="29.5" height="6" fill="#000"/>
<circle cx="1131.55" cy="919.70" r="11.5" fill="#ff0000"/>
<path d="M1131.55,906.60 L1142.50,928.60 L1120.60,928.60 Z" fill="#0070c0"/>
<rect x="1119.30" y="754.85" width="24.5" height="24.5" rx="1.2" fill="#000"/>
<polyline points="716.15,1022.57 723.07,1022.24 730.00,1021.89 736.92,1021.53 743.84,1021.15 750.77,1020.75 757.69,1020.32 764.61,1019.88 771.54,1019.41 778.46,1018.92 785.38,1018.40 792.31,1017.86 799.23,1017.28 806.15,1016.68 813.08,1016.05 820.00,1015.38 826.92,1014.68 833.85,1013.94 840.77,1013.16 847.69,1012.35 854.62,1011.49 861.54,1010.58 868.46,1009.63 875.39,1008.63 882.31,1007.58 889.23,1006.48 896.16,1005.31 903.08,1004.09 910.00,1002.80 916.93,1001.45 923.85,1000.02 930.77,998.53 937.70,996.95 944.62,995.29 951.54,993.55 958.47,991.71 965.39,989.79 972.31,987.76 979.24,985.62 986.16,983.38 993.08,981.01 1000.01,978.53 1006.93,975.92 1013.85,973.17 1020.78,970.27 1027.70,967.23 1034.62,964.03 1041.55,960.67 1048.47,957.13 1055.39,953.40 1062.32,949.49 1069.24,945.37 1076.16,941.03 1083.09,936.47 1090.01,931.68 1096.93,926.63 1103.86,921.33 1110.78,915.75 1117.70,909.88 1124.63,903.70 1131.55,897.20" fill="none" stroke="#ff0000" stroke-width="5.5" stroke-linecap="round" stroke-dasharray="16 24.5"/>
<rect x="692.5" y="600.5" width="490.79999999999995" height="96.5" fill="#f2f2f2" filter="url(#shl)"/>
<text x="793.50" y="616.75" font-size="18" font-family='"Liberation Sans", sans-serif' textLength="127.0" lengthAdjust="spacingAndGlyphs" fill="#000">25th Percentile</text>
<circle cx="749.5" cy="636.25" r="7" fill="#ff0000"/>
<text x="793.50" y="641.75" font-size="18" font-family='"Liberation Sans", sans-serif' textLength="49.0" lengthAdjust="spacingAndGlyphs" fill="#000">Mean</text>
<rect x="742.75" y="653.65" width="13.5" height="13.5" fill="#000"/>
<text x="793.50" y="665.75" font-size="18" font-family='"Liberation Sans", sans-serif' textLength="85.0" lengthAdjust="spacingAndGlyphs" fill="#000">Maximum</text>
<line x1="713.0" y1="684.5" x2="770.75" y2="684.5" stroke="#ff0000" stroke-width="6" stroke-linecap="round" stroke-dasharray="16.5 23.5"/>
<text x="793.50" y="690.50" font-size="18" font-family='"Liberation Sans", sans-serif' textLength="79.0" lengthAdjust="spacingAndGlyphs" fill="#000">Trendline</text>
<rect x="989.45" y="609.75" width="11.5" height="2.5" fill="#000"/>
<text x="1039.40" y="616.75" font-size="18" font-family='"Liberation Sans", sans-serif' textLength="81.5" lengthAdjust="spacingAndGlyphs" fill="#000">Minimum</text>
<path d="M995.20,630.00 L1001.20,642.00 L989.20,642.00 Z" fill="#0070c0"/>
<text x="1039.40" y="641.75" font-size="18" font-family='"Liberation Sans", sans-serif' textLength="127.0" lengthAdjust="spacingAndGlyphs" fill="#000">50th Percentile</text>
<text x="1039.40" y="665.75" font-size="18" font-family='"Liberation Sans", sans-serif' textLength="127.0" lengthAdjust="spacingAndGlyphs" fill="#000">75th Percentile</text>
<rect x="73.75" y="1218.3" width="509.75" height="395.0" fill="#fff" filter="url(#shp)"/>
<line x1="73.75" y1="1534.30" x2="583.5" y2="1534.30" stroke="#d9d9d9" stroke-width="2"/>
<line x1="73.75" y1="1455.30" x2="583.5" y2="1455.30" stroke="#d9d9d9" stroke-width="2"/>
<line x1="73.75" y1="1376.30" x2="583.5" y2="1376.30" stroke="#d9d9d9" stroke-width="2"/>
<line x1="73.75" y1="1297.30" x2="583.5" y2="1297.30" stroke="#d9d9d9" stroke-width="2"/>
<line x1="73.75" y1="1218.30" x2="583.5" y2="1218.30" stroke="#d9d9d9" stroke-width="2"/>
<line x1="73.75" y1="1217.3" x2="73.75" y2="1622.3" stroke="#878787" stroke-width="2"/>
<line x1="64.75" y1="1613.3" x2="583.5" y2="1613.3" stroke="#878787" stroke-width="2"/>
<line x1="64.75" y1="1613.30" x2="73.75" y2="1613.30" stroke="#878787" stroke-width="2"/>
<line x1="64.75" y1="1534.30" x2="73.75" y2="1534.30" stroke="#878787" stroke-width="2"/>
<line x1="64.75" y1="1455.30" x2="73.75" y2="1455.30" stroke="#878787" stroke-width="2"/>
<line x1="64.75" y1="1376.30" x2="73.75" y2="1376.30" stroke="#878787" stroke-width="2"/>
<line x1="64.75" y1="1297.30" x2="73.75" y2="1297.30" stroke="#878787" stroke-width="2"/>
<line x1="64.75" y1="1218.30" x2="73.75" y2="1218.30" stroke="#878787" stroke-width="2"/>
<line x1="158.75" y1="1613.3" x2="158.75" y2="1622.3" stroke="#878787" stroke-width="1.8"/>
<line x1="243.75" y1="1613.3" x2="243.75" y2="1622.3" stroke="#878787" stroke-width="1.8"/>
<line x1="328.9" y1="1613.3" x2="328.9" y2="1622.3" stroke="#878787" stroke-width="1.8"/>
<line x1="414" y1="1613.3" x2="414" y2="1622.3" stroke="#878787" stroke-width="1.8"/>
<line x1="498.5" y1="1613.3" x2="498.5" y2="1622.3" stroke="#878787" stroke-width="1.8"/>
<line x1="583.3" y1="1613.3" x2="583.3" y2="1622.3" stroke="#878787" stroke-width="1.8"/>
<text x="41.40" y="1621.70" font-size="26.3" font-family='"Liberation Sans", sans-serif' text-anchor="end" textLength="36.6" lengthAdjust="spacingAndGlyphs" fill="#000">0.0</text>
<text x="41.40" y="1542.70" font-size="26.3" font-family='"Liberation Sans", sans-serif' text-anchor="end" textLength="36.6" lengthAdjust="spacingAndGlyphs" fill="#000">0.2</text>
<text x="41.40" y="1463.70" font-size="26.3" font-family='"Liberation Sans", sans-serif' text-anchor="end" textLength="36.6" lengthAdjust="spacingAndGlyphs" fill="#000">0.4</text>
<text x="41.40" y="1384.70" font-size="26.3" font-family='"Liberation Sans", sans-serif' text-anchor="end" textLength="36.6" lengthAdjust="spacingAndGlyphs" fill="#000">0.6</text>
<text x="41.40" y="1305.70" font-size="26.3" font-family='"Liberation Sans", sans-serif' text-anchor="end" textLength="36.6" lengthAdjust="spacingAndGlyphs" fill="#000">0.8</text>
<text x="41.40" y="1226.70" font-size="26.3" font-family='"Liberation Sans", sans-serif' text-anchor="end" textLength="36.6" lengthAdjust="spacingAndGlyphs" fill="#000">1.0</text>
<text x="116.25" y="1659.30" font-size="26.6" font-family='"Liberation Sans", sans-serif' text-anchor="middle" font-weight="bold" textLength="52.5" lengthAdjust="spacingAndGlyphs" fill="#000">0.89</text>
<text x="201.25" y="1659.30" font-size="26.6" font-family='"Liberation Sans", sans-serif' text-anchor="middle" font-weight="bold" textLength="52.5" lengthAdjust="spacingAndGlyphs" fill="#000">0.92</text>
<text x="286.32" y="1659.30" font-size="26.6" font-family='"Liberation Sans", sans-serif' text-anchor="middle" font-weight="bold" textLength="52.5" lengthAdjust="spacingAndGlyphs" fill="#000">0.96</text>
<text x="371.45" y="1659.30" font-size="26.6" font-family='"Liberation Sans", sans-serif' text-anchor="middle" font-weight="bold" textLength="52.5" lengthAdjust="spacingAndGlyphs" fill="#000">0.99</text>
<text x="456.25" y="1659.30" font-size="26.6" font-family='"Liberation Sans", sans-serif' text-anchor="middle" font-weight="bold" textLength="52.5" lengthAdjust="spacingAndGlyphs" fill="#000">1.03</text>
<text x="540.90" y="1659.30" font-size="26.6" font-family='"Liberation Sans", sans-serif' text-anchor="middle" font-weight="bold" textLength="52.5" lengthAdjust="spacingAndGlyphs" fill="#000">1.07</text>
<g filter="url(#she)">
<line x1="116.25" y1="1350.00" x2="116.25" y2="1554.40" stroke="#000" stroke-width="5"/>
<line x1="201.25" y1="1402.50" x2="201.25" y2="1591.60" stroke="#000" stroke-width="5"/>
<line x1="286.32" y1="1230.50" x2="286.32" y2="1604.60" stroke="#000" stroke-width="5"/>
<line x1="371.45" y1="1314.50" x2="371.45" y2="1610.80" stroke="#000" stroke-width="5"/>
<line x1="456.25" y1="1513.50" x2="456.25" y2="1612.50" stroke="#000" stroke-width="5"/>
<line x1="540.90" y1="1555.10" x2="540.90" y2="1602.80" stroke="#000" stroke-width="5"/>
<rect x="99.50" y="1398.00" width="33.50" height="64.20" fill="#f8f8f8" stroke="#000" stroke-width="2"/>
<rect x="184.50" y="1436.00" width="33.50" height="73.00" fill="#f8f8f8" stroke="#000" stroke-width="2"/>
<rect x="269.57" y="1436.00" width="33.50" height="128.00" fill="#f8f8f8" stroke="#000" stroke-width="2"/>
<rect x="354.70" y="1548.90" width="33.50" height="46.30" fill="#f8f8f8" stroke="#000" stroke-width="2"/>
<rect x="439.50" y="1573.10" width="33.50" height="29.10" fill="#f8f8f8" stroke="#000" stroke-width="2"/>
<rect x="524.15" y="1586.20" width="33.50" height="11.30" fill="#f8f8f8" stroke="#000" stroke-width="2"/>
</g>
<rect x="101.75" y="1551.40" width="29" height="6" fill="#000"/>
<circle cx="116.25" cy="1437.00" r="10.8" fill="#ff0000"/>
<path d="M116.25,1415.50 L127.00,1438.50 L105.50,1438.50 Z" fill="#0070c0"/>
<rect x="104.00" y="1337.75" width="24.5" height="24.5" rx="1.2" fill="#000"/>
<rect x="186.75" y="1588.60" width="29" height="6" fill="#000"/>
<circle cx="201.25" cy="1470.00" r="10.8" fill="#ff0000"/>
<path d="M201.25,1437.25 L212.00,1460.25 L190.50,1460.25 Z" fill="#0070c0"/>
<rect x="189.00" y="1390.25" width="24.5" height="24.5" rx="1.2" fill="#000"/>
<rect x="271.82" y="1601.60" width="29" height="6" fill="#000"/>
<circle cx="286.32" cy="1495.00" r="10.8" fill="#ff0000"/>
<path d="M286.32,1507.25 L297.07,1530.25 L275.57,1530.25 Z" fill="#0070c0"/>
<rect x="274.07" y="1218.25" width="24.5" height="24.5" rx="1.2" fill="#000"/>
<rect x="356.95" y="1607.80" width="29" height="6" fill="#000"/>
<circle cx="371.45" cy="1539.50" r="10.8" fill="#ff0000"/>
<path d="M371.45,1575.90 L382.20,1598.90 L360.70,1598.90 Z" fill="#0070c0"/>
<rect x="359.20" y="1302.25" width="24.5" height="24.5" rx="1.2" fill="#000"/>
<rect x="441.75" y="1609.50" width="29" height="6" fill="#000"/>
<circle cx="456.25" cy="1584.50" r="10.8" fill="#ff0000"/>
<path d="M456.25,1582.90 L467.00,1605.90 L445.50,1605.90 Z" fill="#0070c0"/>
<rect x="444.00" y="1501.25" width="24.5" height="24.5" rx="1.2" fill="#000"/>
<rect x="526.40" y="1599.80" width="29" height="6" fill="#000"/>
<circle cx="540.90" cy="1587.50" r="10.8" fill="#ff0000"/>
<path d="M540.90,1578.20 L551.65,1601.20 L530.15,1601.20 Z" fill="#0070c0"/>
<rect x="528.65" y="1542.85" width="24.5" height="24.5" rx="1.2" fill="#000"/>
<polyline points="116.25,1398.02 123.33,1405.74 130.41,1413.18 137.48,1420.35 144.56,1427.27 151.64,1433.94 158.72,1440.36 165.79,1446.56 172.87,1452.54 179.95,1458.30 187.02,1463.86 194.10,1469.21 201.18,1474.38 208.26,1479.36 215.34,1484.16 222.41,1488.79 229.49,1493.25 236.57,1497.55 243.64,1501.70 250.72,1505.70 257.80,1509.56 264.88,1513.28 271.95,1516.86 279.03,1520.32 286.11,1523.65 293.19,1526.86 300.26,1529.96 307.34,1532.95 314.42,1535.83 321.50,1538.60 328.57,1541.28 335.65,1543.86 342.73,1546.35 349.81,1548.75 356.88,1551.07 363.96,1553.30 371.04,1555.45 378.12,1557.52 385.19,1559.52 392.27,1561.45 399.35,1563.31 406.43,1565.10 413.50,1566.82 420.58,1568.49 427.66,1570.10 434.74,1571.65 441.81,1573.14 448.89,1574.58 455.97,1575.97 463.05,1577.30 470.12,1578.59 477.20,1579.84 484.28,1581.04 491.36,1582.19 498.44,1583.31 505.51,1584.38 512.59,1585.42 519.67,1586.42 526.75,1587.38 533.82,1588.31 540.90,1589.21" fill="none" stroke="#ff0000" stroke-width="5" stroke-linecap="round" stroke-dasharray="17 23"/>
<rect x="312" y="1153.3" width="258.70000000000005" height="135.5" fill="#f2f2f2" filter="url(#shl)"/>
<text x="410.80" y="1173.00" font-size="20.6" font-family='"Liberation Sans", sans-serif' textLength="144.9" lengthAdjust="spacingAndGlyphs" fill="#000">25th Percentile</text>
<rect x="360.0" y="1192.05" width="12" height="2.5" fill="#000"/>
<text x="410.80" y="1199.80" font-size="20.6" font-family='"Liberation Sans", sans-serif' textLength="92.5" lengthAdjust="spacingAndGlyphs" fill="#000">Minimum</text>
<circle cx="366" cy="1221.3" r="6.7" fill="#ff0000"/>
<text x="410.80" y="1227.30" font-size="20.6" font-family='"Liberation Sans", sans-serif' textLength="55.7" lengthAdjust="spacingAndGlyphs" fill="#000">Mean</text>
<path d="M366.00,1242.00 L372.25,1254.00 L359.75,1254.00 Z" fill="#0070c0"/>
<text x="410.80" y="1254.70" font-size="20.6" font-family='"Liberation Sans", sans-serif' textLength="144.9" lengthAdjust="spacingAndGlyphs" fill="#000">50th Percentile</text>
<rect x="359.35" y="1268.9499999999998" width="13.3" height="13.3" fill="#000"/>
<text x="410.80" y="1281.90" font-size="20.6" font-family='"Liberation Sans", sans-serif' textLength="96.9" lengthAdjust="spacingAndGlyphs" fill="#000">Maximum</text>
<rect x="662.2" y="1243.5" width="505.5999999999999" height="370.5" fill="#fff" filter="url(#shp)"/>
<line x1="662.2" y1="1539.90" x2="1167.8" y2="1539.90" stroke="#d9d9d9" stroke-width="2"/>
<line x1="662.2" y1="1465.80" x2="1167.8" y2="1465.80" stroke="#d9d9d9" stroke-width="2"/>
<line x1="662.2" y1="1391.70" x2="1167.8" y2="1391.70" stroke="#d9d9d9" stroke-width="2"/>
<line x1="662.2" y1="1317.60" x2="1167.8" y2="1317.60" stroke="#d9d9d9" stroke-width="2"/>
<line x1="662.2" y1="1243.50" x2="1167.8" y2="1243.50" stroke="#d9d9d9" stroke-width="2"/>
<line x1="662.2" y1="1242.5" x2="662.2" y2="1623" stroke="#878787" stroke-width="2"/>
<line x1="654.2" y1="1614" x2="1167.8" y2="1614" stroke="#878787" stroke-width="2"/>
<line x1="654.2" y1="1614.00" x2="662.2" y2="1614.00" stroke="#878787" stroke-width="2"/>
<line x1="654.2" y1="1539.90" x2="662.2" y2="1539.90" stroke="#878787" stroke-width="2"/>
<line x1="654.2" y1="1465.80" x2="662.2" y2="1465.80" stroke="#878787" stroke-width="2"/>
<line x1="654.2" y1="1391.70" x2="662.2" y2="1391.70" stroke="#878787" stroke-width="2"/>
<line x1="654.2" y1="1317.60" x2="662.2" y2="1317.60" stroke="#878787" stroke-width="2"/>
<line x1="654.2" y1="1243.50" x2="662.2" y2="1243.50" stroke="#878787" stroke-width="2"/>
<line x1="746" y1="1614" x2="746" y2="1623" stroke="#878787" stroke-width="1.8"/>
<line x1="830.1" y1="1614" x2="830.1" y2="1623" stroke="#878787" stroke-width="1.8"/>
<line x1="914" y1="1614" x2="914" y2="1623" stroke="#878787" stroke-width="1.8"/>
<line x1="998.6" y1="1614" x2="998.6" y2="1623" stroke="#878787" stroke-width="1.8"/>
<line x1="1082.8" y1="1614" x2="1082.8" y2="1623" stroke="#878787" stroke-width="1.8"/>
<line x1="1167.8" y1="1614" x2="1167.8" y2="1623" stroke="#878787" stroke-width="1.8"/>
<text x="628.80" y="1622.60" font-size="26.3" font-family='"Liberation Sans", sans-serif' text-anchor="end" textLength="38.0" lengthAdjust="spacingAndGlyphs" fill="#000">0.0</text>
<text x="628.80" y="1548.50" font-size="26.3" font-family='"Liberation Sans", sans-serif' text-anchor="end" textLength="38.0" lengthAdjust="spacingAndGlyphs" fill="#000">0.2</text>
<text x="628.80" y="1474.40" font-size="26.3" font-family='"Liberation Sans", sans-serif' text-anchor="end" textLength="38.0" lengthAdjust="spacingAndGlyphs" fill="#000">0.4</text>
<text x="628.80" y="1400.30" font-size="26.3" font-family='"Liberation Sans", sans-serif' text-anchor="end" textLength="38.0" lengthAdjust="spacingAndGlyphs" fill="#000">0.6</text>
<text x="628.80" y="1326.20" font-size="26.3" font-family='"Liberation Sans", sans-serif' text-anchor="end" textLength="38.0" lengthAdjust="spacingAndGlyphs" fill="#000">0.8</text>
<text x="628.80" y="1252.10" font-size="26.3" font-family='"Liberation Sans", sans-serif' text-anchor="end" textLength="38.0" lengthAdjust="spacingAndGlyphs" fill="#000">1.0</text>
<text x="704.10" y="1659.30" font-size="26.6" font-family='"Liberation Sans", sans-serif' text-anchor="middle" font-weight="bold" textLength="52.5" lengthAdjust="spacingAndGlyphs" fill="#000">0.89</text>
<text x="788.05" y="1659.30" font-size="26.6" font-family='"Liberation Sans", sans-serif' text-anchor="middle" font-weight="bold" textLength="52.5" lengthAdjust="spacingAndGlyphs" fill="#000">0.92</text>
<text x="872.05" y="1659.30" font-size="26.6" font-family='"Liberation Sans", sans-serif' text-anchor="middle" font-weight="bold" textLength="52.5" lengthAdjust="spacingAndGlyphs" fill="#000">0.96</text>
<text x="956.30" y="1659.30" font-size="26.6" font-family='"Liberation Sans", sans-serif' text-anchor="middle" font-weight="bold" textLength="52.5" lengthAdjust="spacingAndGlyphs" fill="#000">0.99</text>
<text x="1040.70" y="1659.30" font-size="26.6" font-family='"Liberation Sans", sans-serif' text-anchor="middle" font-weight="bold" textLength="52.5" lengthAdjust="spacingAndGlyphs" fill="#000">1.03</text>
<text x="1125.30" y="1659.30" font-size="26.6" font-family='"Liberation Sans", sans-serif' text-anchor="middle" font-weight="bold" textLength="52.5" lengthAdjust="spacingAndGlyphs" fill="#000">1.07</text>
<g filter="url(#she)">
<line x1="704.10" y1="1597.20" x2="704.10" y2="1614.00" stroke="#000" stroke-width="5"/>
<line x1="788.05" y1="1586.70" x2="788.05" y2="1613.00" stroke="#000" stroke-width="5"/>
<line x1="872.05" y1="1558.00" x2="872.05" y2="1614.20" stroke="#000" stroke-width="5"/>
<line x1="956.30" y1="1395.50" x2="956.30" y2="1603.80" stroke="#000" stroke-width="5"/>
<line x1="1040.70" y1="1342.00" x2="1040.70" y2="1612.70" stroke="#000" stroke-width="5"/>
<line x1="1125.30" y1="1263.40" x2="1125.30" y2="1601.50" stroke="#000" stroke-width="5"/>
<rect x="687.60" y="1606.40" width="33.00" height="6.60" fill="#f8f8f8" stroke="#000" stroke-width="2"/>
<rect x="771.55" y="1594.40" width="33.00" height="15.40" fill="#f8f8f8" stroke="#000" stroke-width="2"/>
<rect x="855.55" y="1579.30" width="33.00" height="33.70" fill="#f8f8f8" stroke="#000" stroke-width="2"/>
<rect x="939.80" y="1569.50" width="33.00" height="23.70" fill="#f8f8f8" stroke="#000" stroke-width="2"/>
<rect x="1024.20" y="1393.40" width="33.00" height="196.10" fill="#f8f8f8" stroke="#000" stroke-width="2"/>
<rect x="1108.80" y="1483.70" width="33.00" height="79.60" fill="#f8f8f8" stroke="#000" stroke-width="2"/>
</g>
<rect x="689.50" y="1611.25" width="29.2" height="5.5" fill="#000"/>
<circle cx="704.10" cy="1609.00" r="10.8" fill="#ff0000"/>
<path d="M704.10,1599.15 L714.95,1622.05 L693.25,1622.05 Z" fill="#0070c0"/>
<rect x="691.75" y="1584.85" width="24.7" height="24.7" rx="1.2" fill="#000"/>
<rect x="773.45" y="1610.25" width="29.2" height="5.5" fill="#000"/>
<circle cx="788.05" cy="1602.00" r="10.8" fill="#ff0000"/>
<path d="M788.05,1594.85 L798.90,1617.75 L777.20,1617.75 Z" fill="#0070c0"/>
<rect x="775.70" y="1574.35" width="24.7" height="24.7" rx="1.2" fill="#000"/>
<rect x="857.45" y="1611.45" width="29.2" height="5.5" fill="#000"/>
<circle cx="872.05" cy="1594.50" r="10.8" fill="#ff0000"/>
<path d="M872.05,1582.05 L882.90,1604.95 L861.20,1604.95 Z" fill="#0070c0"/>
<rect x="859.70" y="1545.65" width="24.7" height="24.7" rx="1.2" fill="#000"/>
<rect x="941.70" y="1601.05" width="29.2" height="5.5" fill="#000"/>
<circle cx="956.30" cy="1564.80" r="10.8" fill="#ff0000"/>
<path d="M956.30,1573.55 L967.15,1596.45 L945.45,1596.45 Z" fill="#0070c0"/>
<rect x="943.95" y="1383.15" width="24.7" height="24.7" rx="1.2" fill="#000"/>
<rect x="1026.10" y="1609.95" width="29.2" height="5.5" fill="#000"/>
<circle cx="1040.70" cy="1511.80" r="10.8" fill="#ff0000"/>
<path d="M1040.70,1551.15 L1051.55,1574.05 L1029.85,1574.05 Z" fill="#0070c0"/>
<rect x="1028.35" y="1329.65" width="24.7" height="24.7" rx="1.2" fill="#000"/>
<rect x="1110.70" y="1598.75" width="29.2" height="5.5" fill="#000"/>
<circle cx="1125.30" cy="1503.20" r="10.8" fill="#ff0000"/>
<path d="M1125.30,1520.45 L1136.15,1543.35 L1114.45,1543.35 Z" fill="#0070c0"/>
<rect x="1112.95" y="1251.05" width="24.7" height="24.7" rx="1.2" fill="#000"/>
<polyline points="704.10,1607.18 711.12,1606.83 718.14,1606.45 725.16,1606.06 732.18,1605.65 739.20,1605.21 746.22,1604.75 753.24,1604.27 760.26,1603.76 767.28,1603.23 774.30,1602.67 781.32,1602.08 788.34,1601.45 795.36,1600.80 802.38,1600.11 809.40,1599.39 816.42,1598.62 823.44,1597.82 830.46,1596.98 837.48,1596.09 844.50,1595.16 851.52,1594.17 858.54,1593.14 865.56,1592.05 872.58,1590.91 879.60,1589.70 886.62,1588.44 893.64,1587.10 900.66,1585.70 907.68,1584.23 914.70,1582.67 921.72,1581.04 928.74,1579.32 935.76,1577.51 942.78,1575.61 949.80,1573.61 956.82,1571.50 963.84,1569.29 970.86,1566.95 977.88,1564.50 984.90,1561.92 991.92,1559.20 998.94,1556.35 1005.96,1553.34 1012.98,1550.18 1020.00,1546.85 1027.02,1543.35 1034.04,1539.66 1041.06,1535.79 1048.08,1531.71 1055.10,1527.42 1062.12,1522.90 1069.14,1518.15 1076.16,1513.15 1083.18,1507.89 1090.20,1502.36 1097.22,1496.54 1104.24,1490.41 1111.26,1483.97 1118.28,1477.19 1125.30,1470.05" fill="none" stroke="#ff0000" stroke-width="5.5" stroke-linecap="round" stroke-dasharray="17 23"/>
<rect x="637.5" y="1181.5" width="473.20000000000005" height="103.09999999999991" fill="#f2f2f2" filter="url(#shl)"/>
<text x="734.75" y="1200.00" font-size="18" font-family='"Liberation Sans", sans-serif' textLength="127.0" lengthAdjust="spacingAndGlyphs" fill="#000">25th Percentile</text>
<circle cx="690" cy="1220" r="7" fill="#ff0000"/>
<text x="734.75" y="1225.50" font-size="18" font-family='"Liberation Sans", sans-serif' textLength="49.0" lengthAdjust="spacingAndGlyphs" fill="#000">Mean</text>
<rect x="683.25" y="1239.25" width="13.5" height="13.5" fill="#000"/>
<text x="734.75" y="1251.25" font-size="18" font-family='"Liberation Sans", sans-serif' textLength="85.0" lengthAdjust="spacingAndGlyphs" fill="#000">Maximum</text>
<line x1="654.25" y1="1271.75" x2="710.75" y2="1271.75" stroke="#ff0000" stroke-width="6" stroke-linecap="round" stroke-dasharray="16.5 23.5"/>
<text x="734.75" y="1277.00" font-size="18" font-family='"Liberation Sans", sans-serif' textLength="79.0" lengthAdjust="spacingAndGlyphs" fill="#000">Trendline</text>
<rect x="920.75" y="1192.75" width="11.5" height="2.5" fill="#000"/>
<text x="970.50" y="1199.30" font-size="18" font-family='"Liberation Sans", sans-serif' textLength="81.5" lengthAdjust="spacingAndGlyphs" fill="#000">Minimum</text>
<path d="M926.50,1214.40 L932.50,1226.40 L920.50,1226.40 Z" fill="#0070c0"/>
<text x="970.50" y="1224.70" font-size="18" font-family='"Liberation Sans", sans-serif' textLength="127.0" lengthAdjust="spacingAndGlyphs" fill="#000">50th Percentile</text>
<text x="970.50" y="1250.50" font-size="18" font-family='"Liberation Sans", sans-serif' textLength="127.0" lengthAdjust="spacingAndGlyphs" fill="#000">75th Percentile</text>
<text x="0.30" y="545.60" font-size="31" font-family='"Liberation Serif", serif' textLength="109.5" lengthAdjust="spacingAndGlyphs" fill="#000">Panel A:</text>
<text x="116.80" y="545.60" font-size="29" font-family='"Liberation Serif", serif' textLength="1040.5" lengthAdjust="spacingAndGlyphs" fill="#000">Pricing errors of the 7-days calls (left) and the corresponding put (right) GARCH options</text>
<text x="0.30" y="1122.50" font-size="31" font-family='"Liberation Serif", serif' textLength="109.5" lengthAdjust="spacingAndGlyphs" fill="#000">Panel B:</text>
<text x="116.80" y="1122.50" font-size="29" font-family='"Liberation Serif", serif' textLength="1060.8" lengthAdjust="spacingAndGlyphs" fill="#000">Pricing errors of the 7-days calls (left) and the corresponding put (right) CGARCH options</text>
<text x="0.30" y="1711.70" font-size="31" font-family='"Liberation Serif", serif' textLength="109.5" lengthAdjust="spacingAndGlyphs" fill="#000">Panel C:</text>
<text x="116.80" y="1711.70" font-size="29" font-family='"Liberation Serif", serif' textLength="1059.5" lengthAdjust="spacingAndGlyphs" fill="#000">Pricing errors of the 7-days calls (left) and the corresponding put (right) EGARCH options</text>
<text x="456" y="1357.3" font-size="23" font-weight="bold" font-family='"Liberation Sans", sans-serif' textLength="98" lengthAdjust="spacingAndGlyphs">Box Plot</text>
</svg>
</body></html>
